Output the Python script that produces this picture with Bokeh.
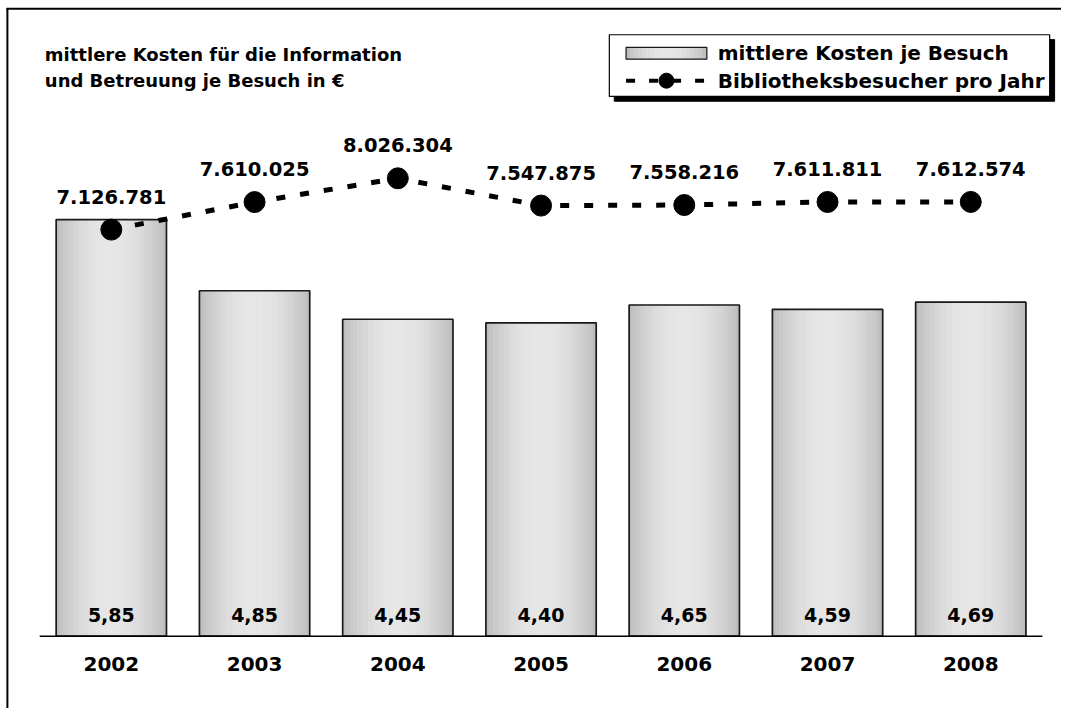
import numpy as np
from bokeh.plotting import figure
from bokeh.models import Range1d, FixedTicker
from bokeh.core.properties import value
from bokeh.embed import file_html
from bokeh.resources import INLINE

# ---- data ----
years = ["2002", "2003", "2004", "2005", "2006", "2007", "2008"]
kosten = [5.85, 4.85, 4.45, 4.40, 4.65, 4.59, 4.69]
besucher = [7126781, 7610025, 8026304, 7547875, 7558216, 7611811, 7612574]
title_lines = ["mittlere Kosten für die Information", "und Betreuung je Besuch in €"]
legend_labels = ["mittlere Kosten je Besuch", "Bibliotheksbesucher pro Jahr"]

# ---- layout constants (reference pixel space 1077 x 724) ----
W, H = 1061, 708            # figure size (fits the window with 8px margins)
RW, RH = 1077, 724          # reference layout space
BASE = 650                  # baseline y in layout space
PX_PER_EUR = 72.82
VIS_PER_PX = 17144.0
X0 = 112.5                  # first category centre
STEP = 145.4
BAR_W = 0.77
FONT = value("DejaVu Sans")

n = len(years)
idx = list(range(n))

p = figure(width=W, height=H, output_backend="svg", toolbar_location=None,
           x_range=Range1d(-X0 / STEP, (RW - X0) / STEP),
           y_range=Range1d(-(RH - BASE) / PX_PER_EUR, BASE / PX_PER_EUR),
           y_axis_location=None, min_border=0,
           min_border_left=0, min_border_right=0, min_border_top=0, min_border_bottom=0)
p.extra_y_ranges = {"vis": Range1d(-(RH - BASE) * VIS_PER_PX, BASE * VIS_PER_PX),
                    "py": Range1d(RH, 0)}
p.extra_x_ranges = {"px": Range1d(0, RW)}
p.outline_line_color = None
p.xgrid.visible = False
p.ygrid.visible = False
p.background_fill_color = "white"
p.border_fill_color = "white"

ax = p.xaxis[0]
ax.fixed_location = 0
ax.ticker = FixedTicker(ticks=idx)
ax.major_label_overrides = {i: y for i, y in enumerate(years)}
ax.axis_line_color = None
ax.major_tick_line_color = None
ax.minor_tick_line_color = None
ax.major_tick_out = 0
ax.major_tick_in = 0
ax.major_label_standoff = 21
ax.major_label_text_font = "DejaVu Sans"
ax.major_label_text_font_style = "bold"
ax.major_label_text_font_size = "20px"
ax.major_label_text_color = "black"

# ---- outer frame lines (left and top, as in the reference) ----
p.segment(x0=[7, 6], y0=[8, 8.5], x1=[7, RW], y1=[RH, 8.5], x_range_name="px",
          y_range_name="py", line_color="black", line_width=2)

# ---- gradient helper ----
def shades(k):
    t = (np.arange(k) + 0.5) / k
    s = 186 + (231 - 186) * np.sin(np.pi * t) ** 0.8
    return ["#%02x%02x%02x" % (int(v), int(v), int(v)) for v in s]

K = 30
gcols = shades(K)
sx, sw, st, sc = [], [], [], []
for i in idx:
    for k in range(K):
        sx.append(i - BAR_W / 2 + (k + 0.5) * BAR_W / K)
        sw.append(BAR_W / K)
        st.append(kosten[i])
        sc.append(gcols[k])
p.vbar(x=sx, width=sw, top=st, bottom=0, fill_color=sc, line_color=sc, line_width=0.7)
p.vbar(x=idx, width=BAR_W, top=kosten, bottom=0, fill_color=None,
       line_color="#1a1a1a", line_width=1.7)

# baseline
p.segment(x0=[-0.5], y0=[0], x1=[n - 0.5], y1=[0], line_color="black", line_width=1.5)

# visitors line
p.line(idx, besucher, y_range_name="vis", line_color="black", line_width=5, line_dash="9 15")
p.scatter(idx, besucher, y_range_name="vis", size=21, fill_color="black", line_color="black")

vis_txt = [f"{v:,}".replace(",", ".") for v in besucher]
cost_txt = [f"{v:.2f}".replace(".", ",") for v in kosten]
p.text(idx, besucher, text=vis_txt, y_range_name="vis", y_offset=-33,
       text_align="center", text_baseline="middle", text_font=FONT,
       text_font_style="bold", text_font_size="19.5px", text_color="black")
p.text(idx, [0] * n, text=cost_txt, y_offset=-21.5,
       text_align="center", text_baseline="middle", text_font=FONT,
       text_font_style="bold", text_font_size="19px", text_color="black")

# ---- title (layout space) ----
p.text(x=[45, 45], y=[55, 82], text=title_lines, x_range_name="px", y_range_name="py",
       text_align="left", text_baseline="middle", text_font=FONT,
       text_font_style="bold", text_font_size="18px", text_color="black")

# ---- legend (layout space) ----
p.quad(left=[623], right=[1070], top=[40], bottom=[103], x_range_name="px", y_range_name="py",
       fill_color="black", line_color="black")
p.quad(left=[618], right=[1065], top=[35], bottom=[98], x_range_name="px", y_range_name="py",
       fill_color="white", line_color="black", line_width=1.2)
K2 = 20
lcols = shades(K2)
lx0, lx1 = 635, 717
ledges = np.linspace(lx0, lx1, K2 + 1)
p.quad(left=list(ledges[:-1]), right=list(ledges[1:]), top=[48] * K2, bottom=[60] * K2,
       x_range_name="px", y_range_name="py", fill_color=lcols, line_color=lcols, line_width=0.7)
p.quad(left=[lx0], right=[lx1], top=[48], bottom=[60], x_range_name="px", y_range_name="py",
       fill_color=None, line_color="#1a1a1a", line_width=1.2)
p.line(x=[lx0, lx1], y=[82, 82], x_range_name="px", y_range_name="py",
       line_color="black", line_width=4, line_dash="9 14")
p.scatter(x=[(lx0 + lx1) / 2], y=[82], x_range_name="px", y_range_name="py",
          size=15, fill_color="black", line_color="black")
p.text(x=[728, 728], y=[54, 82], text=legend_labels, x_range_name="px", y_range_name="py",
       text_align="left", text_baseline="middle", text_font=FONT,
       text_font_style="bold", text_font_size="20px", text_color="black")

open("out.html", "w").write(file_html(p, INLINE))
